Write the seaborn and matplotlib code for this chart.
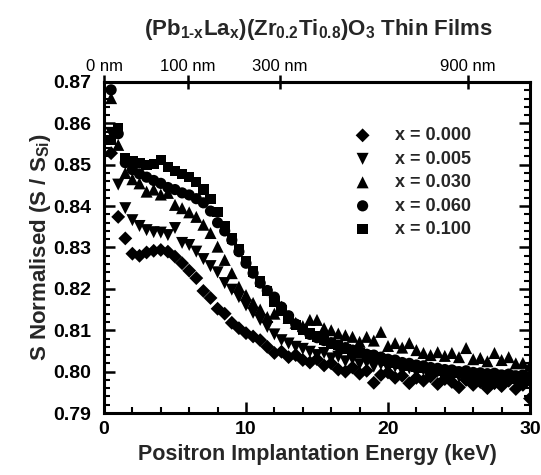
import matplotlib
matplotlib.use("Agg")
import matplotlib.pyplot as plt
import seaborn as sns
import pandas as pd
from matplotlib.ticker import MultipleLocator, FixedLocator

# ---------------- data ----------------
energy = [0.5, 1.0, 1.5, 2.0, 2.5, 3.0, 3.5, 4.0, 4.5, 5.0,
          5.5, 6.0, 6.5, 7.0, 7.5, 8.0, 8.5, 9.0, 9.5, 10.0,
          10.5, 11.0, 11.5, 12.0, 12.5, 13.0, 13.5, 14.0, 14.5, 15.0,
          15.5, 16.0, 16.5, 17.0, 17.5, 18.0, 18.5, 19.0, 19.5, 20.0,
          20.5, 21.0, 21.5, 22.0, 22.5, 23.0, 23.5, 24.0, 24.5, 25.0,
          25.5, 26.0, 26.5, 27.0, 27.5, 28.0, 28.5, 29.0, 29.5, 30.0]

s_x000 = [0.8528, 0.8374, 0.8322, 0.8285, 0.8280, 0.8288, 0.8292, 0.8294, 0.8290, 0.8278,
          0.8262, 0.8244, 0.8226, 0.8195, 0.8178, 0.8152, 0.8140, 0.8118, 0.8105, 0.8093,
          0.8085, 0.8076, 0.8060, 0.8045, 0.8048, 0.8035, 0.8040, 0.8028, 0.8022, 0.8030,
          0.8015, 0.8020, 0.8005, 0.8000, 0.8010, 0.7995, 0.8002, 0.7973, 0.7992, 0.7998,
          0.7985, 0.7990, 0.7972, 0.7985, 0.7978, 0.7988, 0.7970, 0.7982, 0.7975, 0.7962,
          0.7980, 0.7968, 0.7975, 0.7960, 0.7972, 0.7965, 0.7978, 0.7958, 0.7968, 0.7935]

s_x005 = [0.8577, 0.8452, 0.8395, 0.8366, 0.8352, 0.8342, 0.8337, 0.8336, 0.8330, 0.8347,
          0.8311, 0.8306, 0.8290, 0.8272, 0.8255, 0.8240, 0.8214, 0.8198, 0.8180, 0.8160,
          0.8142, 0.8125, 0.8108, 0.8090, 0.8076, 0.8068, 0.8060, 0.8055, 0.8048, 0.8040,
          0.8045, 0.8032, 0.8036, 0.8025, 0.8030, 0.8018, 0.8022, 0.8012, 0.8018, 0.8008,
          0.8012, 0.8002, 0.8008, 0.7998, 0.8004, 0.7995, 0.8000, 0.7992, 0.7998, 0.7988,
          0.7994, 0.7986, 0.7992, 0.7984, 0.7990, 0.7982, 0.7988, 0.7980, 0.7985, 0.7978]

s_x030 = [0.8661, 0.8548, 0.8480, 0.8465, 0.8455, 0.8435, 0.8440, 0.8428, 0.8432, 0.8403,
          0.8395, 0.8385, 0.8374, 0.8355, 0.8335, 0.8302, 0.8270, 0.8238, 0.8205, 0.8185,
          0.8166, 0.8150, 0.8132, 0.8140, 0.8157, 0.8130, 0.8118, 0.8110, 0.8125, 0.8125,
          0.8105, 0.8100, 0.8092, 0.8088, 0.8084, 0.8072, 0.8084, 0.8075, 0.8096, 0.8062,
          0.8069, 0.8058, 0.8069, 0.8052, 0.8045, 0.8040, 0.8047, 0.8038, 0.8045, 0.8035,
          0.8057, 0.8030, 0.8033, 0.8025, 0.8045, 0.8028, 0.8035, 0.8020, 0.8021, 0.8015]

s_x060 = [0.8681, 0.8575, 0.8505, 0.8488, 0.8478, 0.8470, 0.8462, 0.8455, 0.8445, 0.8440,
          0.8432, 0.8427, 0.8418, 0.8408, 0.8388, 0.8360, 0.8340, 0.8318, 0.8290, 0.8262,
          0.8238, 0.8214, 0.8196, 0.8180, 0.8156, 0.8135, 0.8115, 0.8102, 0.8090, 0.8082,
          0.8075, 0.8070, 0.8062, 0.8058, 0.8052, 0.8048, 0.8042, 0.8040, 0.8035, 0.8030,
          0.8028, 0.8022, 0.8020, 0.8016, 0.8014, 0.8010, 0.8008, 0.8005, 0.8004, 0.8000,
          0.8002, 0.7998, 0.7997, 0.7995, 0.7996, 0.7992, 0.7994, 0.7990, 0.7992, 0.7988]

s_x100 = [0.8560, 0.8589, 0.8516, 0.8508, 0.8505, 0.8500, 0.8502, 0.8512, 0.8495, 0.8485,
          0.8478, 0.8470, 0.8458, 0.8440, 0.8418, 0.8385, 0.8352, 0.8322, 0.8295, 0.8268,
          0.8242, 0.8218, 0.8195, 0.8168, 0.8148, 0.8128, 0.8112, 0.8100, 0.8092, 0.8085,
          0.8078, 0.8068, 0.8065, 0.8055, 0.8050, 0.8045, 0.8040, 0.8035, 0.8030, 0.8025,
          0.8022, 0.8018, 0.8015, 0.8012, 0.8008, 0.8005, 0.8002, 0.8000, 0.7998, 0.7996,
          0.7994, 0.7992, 0.7990, 0.7972, 0.7988, 0.7985, 0.7984, 0.7982, 0.7980, 0.7978]

series_labels = ["x = 0.000", "x = 0.005", "x = 0.030", "x = 0.060", "x = 0.100"]
series_values = [s_x000, s_x005, s_x030, s_x060, s_x100]

depth_tick_energy = [0.0, 5.9, 12.4, 25.6]
depth_tick_labels = ["0 nm", "100 nm", "300 nm", "900 nm"]

# ---------------- style ----------------
sns.set_theme(style="ticks")
plt.rcParams["font.family"] = ["Liberation Sans", "DejaVu Sans"]
plt.rcParams["font.weight"] = "bold"
plt.rcParams["mathtext.fontset"] = "custom"
plt.rcParams["mathtext.rm"] = "Liberation Sans:bold"
plt.rcParams["mathtext.bf"] = "Liberation Sans:bold"
plt.rcParams["mathtext.it"] = "Liberation Sans:bold"
plt.rcParams["mathtext.default"] = "bf"

rows = []
for lab, vals in zip(series_labels, series_values):
    for e, s in zip(energy, vals):
        rows.append({"E": e, "S": s, "series": lab})
df = pd.DataFrame(rows)

W, H = 541, 475
fig = plt.figure(figsize=(W / 100, H / 100), dpi=100)
ax = fig.add_axes([104 / W, (H - 413) / H, (530 - 104) / W, (413 - 82) / H])

markers = {"x = 0.000": "D", "x = 0.005": "v", "x = 0.030": "^",
           "x = 0.060": "o", "x = 0.100": "s"}
sizes_map = {"x = 0.000": 50, "x = 0.005": 75, "x = 0.030": 75,
             "x = 0.060": 65, "x = 0.100": 55}

for lab in series_labels:
    sub = df[df["series"] == lab]
    sns.scatterplot(data=sub, x="E", y="S", marker=markers[lab], s=sizes_map[lab],
                    color="black", edgecolor="none", linewidth=0, ax=ax,
                    label=lab, legend=True)

ax.set_xlim(0, 30)
ax.set_ylim(0.79, 0.87)
ax.xaxis.set_major_locator(MultipleLocator(10))
ax.xaxis.set_minor_locator(MultipleLocator(2))
ax.yaxis.set_major_locator(MultipleLocator(0.01))
ax.yaxis.set_minor_locator(MultipleLocator(0.002))
ax.yaxis.set_major_formatter(matplotlib.ticker.FormatStrFormatter("%.2f"))

ax.tick_params(axis="both", which="major", direction="in", length=8, width=1.8,
               labelsize=14, colors="black")
ax.tick_params(axis="x", which="major", pad=6)
ax.tick_params(axis="y", which="major", pad=9)
ax.tick_params(axis="both", which="minor", direction="in", length=4.5, width=1.5,
               colors="black")
ax.tick_params(axis="y", which="both", right=True, labelright=False)
for lbl in ax.get_xticklabels() + ax.get_yticklabels():
    lbl.set_fontweight("bold")
for sp in ax.spines.values():
    sp.set_linewidth(2.2)
    sp.set_color("black")

ax.set_xlabel("Positron Implantation Energy (keV)", fontsize=15.5, fontweight="bold",
              labelpad=4)
ax.set_ylabel(r"S Normalised (S / S$_{Si}$)", fontsize=16, fontweight="bold",
              labelpad=0)

# top depth axis
top = ax.secondary_xaxis("top")
top.xaxis.set_major_locator(FixedLocator(depth_tick_energy))
top.set_xticklabels(depth_tick_labels)
top.tick_params(axis="x", direction="inout", length=10, width=1.8, labelsize=12,
                pad=1, colors="black")
top.xaxis.set_minor_locator(matplotlib.ticker.NullLocator())
for lbl in top.get_xticklabels():
    lbl.set_fontweight("normal")
top.spines["top"].set_linewidth(2.2)

leg = ax.legend(loc="upper left", bbox_to_anchor=(0.535, 0.902), frameon=False,
                fontsize=13, handletextpad=0.8, labelspacing=0.36, markerscale=1.0,
                borderpad=0.2)
for t in leg.get_texts():
    t.set_fontweight("bold")

fig.text(318 / W, 1 - 30 / H,
         r"(Pb$_{1\text{-}x}$La$_{x}$)(Zr$_{0.2}$Ti$_{0.8}$)O$_{3}$ Thin Films",
         ha="center", va="center", fontsize=16, fontweight="bold")

fig.savefig("out.png", dpi=100, facecolor="white")
